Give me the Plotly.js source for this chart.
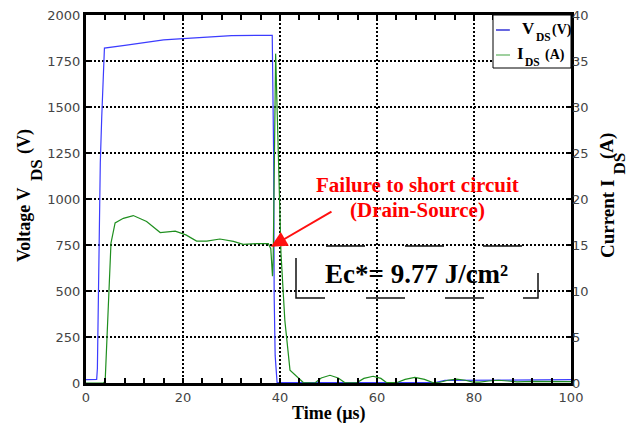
<!DOCTYPE html>
<html>
<head>
<meta charset="utf-8">
<script src="https://cdn.plot.ly/plotly-3.0.1.min.js"></script>
<style>html,body{margin:0;padding:0;background:#fff;}#chart{width:636px;height:426px;}</style>
</head>
<body>
<div id="chart"></div>
<script>
// ---- data ----
const vdsTime = [0, 2.2, 2.35, 2.8, 2.95, 3.25, 3.8, 8, 12, 16, 20, 25, 30, 38.4, 38.6, 38.7, 38.8, 39.0, 39.4, 72, 74, 88, 90, 100];
const vdsVolt = [18, 20, 80, 880, 1200, 1450, 1820, 1835, 1852, 1865, 1872, 1882, 1888, 1890, 1555, 1210, 470, 150, 2, 2, 14, 14, 18, 18];

const idsTime = [0, 3.6, 3.95, 4.6, 5.15, 6.0, 7.7, 9.75, 12.5, 15.3, 18.4, 20.6, 22.8, 24.9, 27.6, 30.4, 32.4, 35.2, 37.6, 38.1, 38.45, 38.6, 39.1, 39.65, 40.2, 41.0, 42.06, 44.8,
  47.2, 48.5, 50.3, 52.0, 53.4, 55.8, 57.3, 59.2, 60.8, 62.0, 64.0, 65.8, 67.8, 69.8, 71.5, 73.0, 74.6, 76.4, 78.2, 79.8, 81.2, 83.0, 85.0, 87.0, 88.9, 92, 96, 100];
const idsAmp = [0, 0, 0.2, 7.9, 15.2, 17.4, 17.9, 18.2, 17.55, 16.35, 16.5, 16.1, 15.43, 15.43, 15.65, 15.4, 15.07, 15.15, 15.15, 14.6, 11.6, 13.5, 35.8, 25.0, 14.1, 6.8, 1.4, 0.05,
  0.0, 0.55, 0.84, 0.55, 0.02, 0.02, 0.5, 0.73, 0.5, 0.03, 0.03, 0.4, 0.6, 0.4, 0.05, 0.08, 0.3, 0.42, 0.3, 0.1, 0.1, 0.22, 0.3, 0.22, 0.12, 0.18, 0.15, 0.15];

const xTicks = [0, 20, 40, 60, 80, 100];
const yTicks = [0, 250, 500, 750, 1000, 1250, 1500, 1750, 2000];
const y2Ticks = [0, 5, 10, 15, 20, 25, 30, 35, 40];

// text pieces (main part, subscript, unit)
const vdsLegend = ['V', 'DS', '(V)'];
const idsLegend = ['I', 'DS', '(A)'];
const yTitle = ['Voltage V', 'DS', '(V)'];
const y2Title = ['Current I', 'DS', '(A)'];
const xTitle = 'Time (µs)';
const failText1 = 'Failure to short circuit';
const failText2 = '(Drain-Source)';
const ecText = 'Ec*= 9.77 J/cm²';

// ---- layout helpers (pixel -> paper) ----
const L = 86, R = 571, T = 15, B = 383;
const xp = px => (px - L) / (R - L);
const yp = py => (B - py) / (B - T);

const serif = 'Liberation Serif, Times New Roman, serif';
const sans = 'DejaVu Sans, sans-serif';

function txt(text, px, py, size, opts) {
  opts = opts || {};
  return Object.assign({
    text: '<b>' + text + '</b>', xref: 'paper', yref: 'paper', x: xp(px), y: yp(py),
    xanchor: 'center', yanchor: 'middle', showarrow: false,
    font: {family: serif, size: size, color: opts.color || '#000'}
  }, opts.extra || {});
}

const traces = [
  {x: vdsTime, y: vdsVolt, type: 'scatter', mode: 'lines', name: 'VDS',
   line: {color: '#3c3cff', width: 1.2}, xaxis: 'x', yaxis: 'y', showlegend: false, hoverinfo: 'skip'},
  {x: idsTime, y: idsAmp, type: 'scatter', mode: 'lines', name: 'IDS',
   line: {color: '#1f8f1f', width: 1.2}, xaxis: 'x', yaxis: 'y2', showlegend: false, hoverinfo: 'skip'}
];

const gridDash = '2px,2px';
const tickFont = {family: sans, size: 13, color: '#444'};

const layout = {
  width: 636, height: 426,
  margin: {l: L, r: 636 - R, t: T, b: 426 - B, pad: 0},
  paper_bgcolor: '#ffffff', plot_bgcolor: '#ffffff',
  showlegend: false,
  font: {family: sans, size: 13, color: '#444444'},
  xaxis: {
    range: [0, 100], tickvals: xTicks, ticktext: xTicks.map(String),
    ticks: 'inside', ticklen: 5, tickwidth: 2, tickcolor: '#000',
    minor: {dtick: 4, tick0: 0, ticks: 'inside', ticklen: 3, tickwidth: 2, tickcolor: '#000', showgrid: false},
    showline: true, linewidth: 3, linecolor: '#000', mirror: 'allticks',
    showgrid: true, gridcolor: '#000', gridwidth: 1.6, griddash: gridDash,
    zeroline: false, tickfont: tickFont
  },
  yaxis: {
    range: [0, 2000], tickvals: yTicks, ticktext: yTicks.map(String),
    ticks: 'inside', ticklen: 5, tickwidth: 2.5, tickcolor: '#000',
    showline: true, linewidth: 3, linecolor: '#000', mirror: true,
    showgrid: true, gridcolor: '#000', gridwidth: 1.6, griddash: gridDash,
    zeroline: false, tickfont: tickFont
  },
  yaxis2: {
    range: [0, 40], tickvals: y2Ticks, ticktext: y2Ticks.map(String),
    overlaying: 'y', side: 'right',
    ticks: 'inside', ticklen: 5, tickwidth: 2.5, tickcolor: '#000',
    showline: false, showgrid: false, zeroline: false,
    tickfont: tickFont
  },
  shapes: [
    // Ec box (broken dashed border)
    {type: 'rect', xref: 'paper', yref: 'paper', x0: xp(296), x1: xp(538), y0: yp(298), y1: yp(246),
     line: {color: '#111', width: 1.5,
            dash: '29px,41px,39px,40px,39px,39px,40px,43px,39px,39px,39px,40px,39px,42px,40px'},
     fillcolor: 'rgba(0,0,0,0)'},
    // legend box
    {type: 'rect', xref: 'paper', yref: 'paper', x0: xp(493), x1: xp(571), y0: yp(68), y1: yp(15),
     line: {color: '#000', width: 1}, fillcolor: '#ffffff', layer: 'above'},
    {type: 'line', xref: 'paper', yref: 'paper', x0: xp(496), x1: xp(510), y0: yp(30), y1: yp(30),
     line: {color: '#0000cc', width: 1.2}, layer: 'above'},
    {type: 'line', xref: 'paper', yref: 'paper', x0: xp(496), x1: xp(510), y0: yp(55), y1: yp(55),
     line: {color: '#7fc07f', width: 1.5}, layer: 'above'}
  ],
  annotations: [
    // legend texts
    txt(vdsLegend[0], 520, 28.5, 17, {extra: {xanchor: 'left'}}),
    txt(vdsLegend[1], 533.5, 37, 11.5, {extra: {xanchor: 'left'}}),
    txt(vdsLegend[2], 549.5, 30, 14, {extra: {xanchor: 'left'}}),
    txt(idsLegend[0], 515, 53, 17, {extra: {xanchor: 'left'}}),
    txt(idsLegend[1], 522.5, 62, 11.5, {extra: {xanchor: 'left'}}),
    txt(idsLegend[2], 543, 54.5, 14, {extra: {xanchor: 'left'}}),
    // arrow
    {text: '', xref: 'x', yref: 'y', x: 38.14, y: 740, ax: 62, ay: -36, showarrow: true,
     arrowhead: 2, arrowsize: 1.6, arrowwidth: 2, arrowcolor: '#ff1010'},
    txt(failText1, 417.5, 185, 21, {color: '#ff0000'}),
    txt(failText2, 417, 210, 21, {color: '#ff0000'}),
    txt(ecText, 416.5, 274, 27),
    // axis titles
    txt(xTitle, 329, 413, 18),
    txt(yTitle[0], 24, 225, 18, {extra: {textangle: -90}}),
    txt(yTitle[1], 36, 170, 17, {extra: {textangle: -90}}),
    txt(yTitle[2], 24, 142, 18, {extra: {textangle: -90}}),
    txt(y2Title[0], 607, 219, 19, {extra: {textangle: -90}}),
    txt(y2Title[1], 618.5, 164, 17, {extra: {textangle: -90}}),
    txt(y2Title[2], 607, 146, 19, {extra: {textangle: -90}})
  ]
};

Plotly.newPlot('chart', traces, layout, {displayModeBar: false, staticPlot: true});
</script>
</body>
</html>
